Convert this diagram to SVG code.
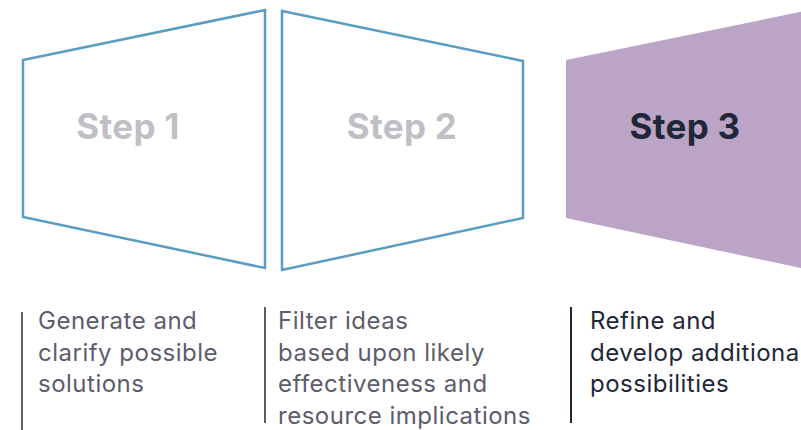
<svg xmlns="http://www.w3.org/2000/svg" width="801" height="430" viewBox="0 0 801 430">
  <style>
    .outline { fill: #ffffff; stroke: #5b9cc2; stroke-width: 2.5; stroke-linejoin: miter; }
    .solid { fill: #bca4c6; }
    .title { font-family: Inter, "Noto Sans", sans-serif; font-size: 35px; font-weight: 700; text-anchor: middle; letter-spacing: 0.3px; }
    .muted { fill: #c1bfc6; }
    .dark { fill: #1f2738; }
    .desc { font-family: Inter, "Noto Sans", sans-serif; font-size: 24px; letter-spacing: 0.5px; }
    .desc-muted { fill: #5c5c6c; }
    .bar { stroke-width: 2; }
  </style>

  <g id="step1">
    <polygon class="outline" points="23,60 265,10 265,268 23,217"/>
    <text class="title muted" x="128" y="139">Step 1</text>
  </g>

  <g id="step2">
    <polygon class="outline" points="282,11 523,61 523,218 282,270"/>
    <text class="title muted" x="402" y="139">Step 2</text>
  </g>

  <g id="step3">
    <polygon class="solid" points="566,60 810,10 810,270 566,218"/>
    <text class="title dark" x="685" y="139">Step 3</text>
  </g>

  <g id="desc1">
    <line class="bar" x1="22" y1="312" x2="22" y2="430" stroke="#5c5c6c"/>
    <text class="desc desc-muted" x="38" y="329">Generate and</text>
    <text class="desc desc-muted" x="38" y="361">clarify possible</text>
    <text class="desc desc-muted" x="38" y="392">solutions</text>
  </g>

  <g id="desc2">
    <line class="bar" x1="265" y1="307" x2="265" y2="423" stroke="#5c5c6c"/>
    <text class="desc desc-muted" x="278" y="329">Filter ideas</text>
    <text class="desc desc-muted" x="278" y="361">based upon likely</text>
    <text class="desc desc-muted" x="278" y="392">effectiveness and</text>
    <text class="desc desc-muted" x="278" y="424">resource implications</text>
  </g>

  <g id="desc3">
    <line class="bar" x1="571" y1="307" x2="571" y2="423" stroke="#1f2738"/>
    <text class="desc dark" x="590" y="329">Refine and</text>
    <text class="desc dark" x="590" y="361">develop additional</text>
    <text class="desc dark" x="590" y="392">possibilities</text>
  </g>
</svg>
